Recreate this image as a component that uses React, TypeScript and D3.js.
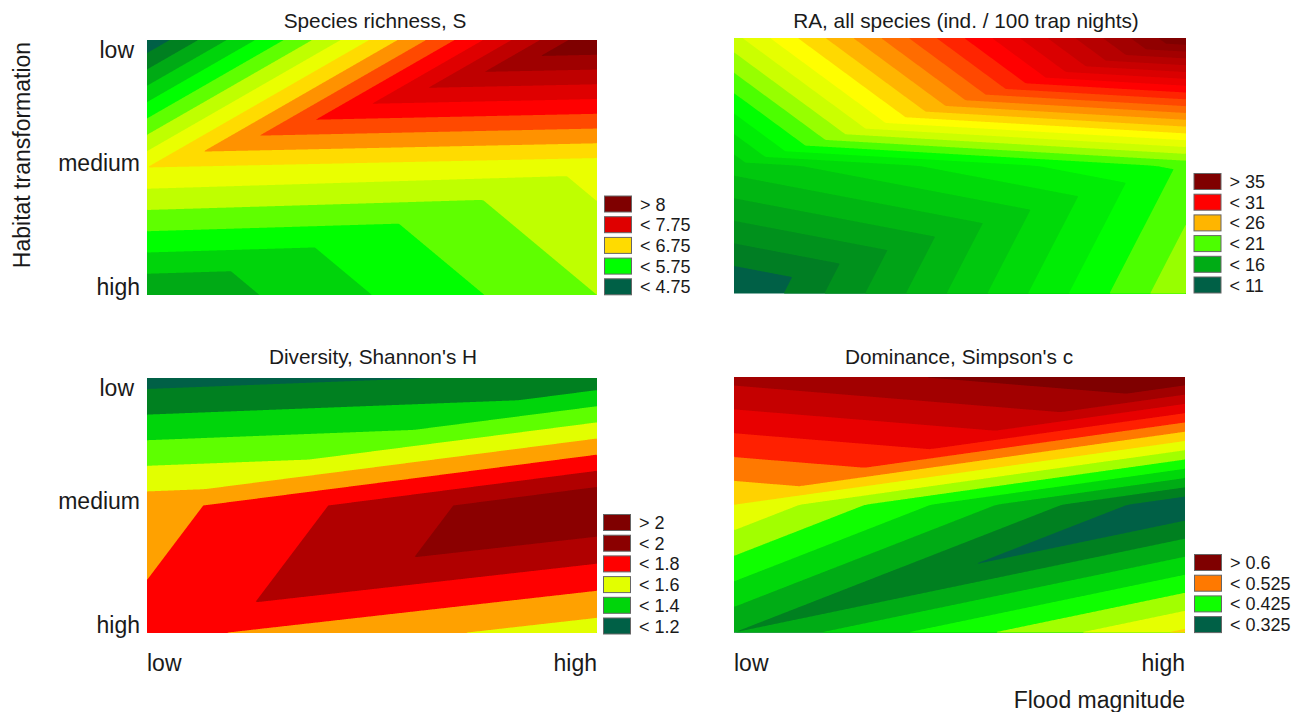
import React from 'react';
import * as d3 from 'd3';

const floodLevels = ['low', 'high'];
const habitatLevels = ['low', 'medium', 'high'];

// node values, one row per habitat level, one column per flood level
const richnessValues = [[4.55, 8.5], [6.5, 6.34], [5.0, 6.0]];
const abundanceValues = [[21.7, 38.0], [15.44, 19.26], [9.78, 20.88]];
const shannonValues = [[1.157, 1.225], [1.655, 2.015], [1.732, 1.544]];
const simpsonValues = [[0.609, 0.6475], [0.475, 0.303], [0.35, 0.48]];

const richnessLevels = [4.75, 5, 5.25, 5.5, 5.75, 6, 6.25, 6.5, 6.75, 7, 7.25, 7.5, 7.75, 8, 8.25];
const abundanceLevels = [11, 12, 13, 14, 15, 16, 17, 18, 19, 20, 21, 22, 23, 24, 25, 26, 27, 28, 29, 30, 31, 32, 33, 34, 35, 36, 37];
const shannonLevels = [1.2, 1.3, 1.4, 1.5, 1.6, 1.7, 1.8, 1.9, 2.05];
const simpsonLevels = [0.325, 0.35, 0.375, 0.4, 0.425, 0.45, 0.475, 0.5, 0.525, 0.55, 0.575, 0.6, 0.625];

const richnessLegend = ['> 8', '< 7.75', '< 6.75', '< 5.75', '< 4.75'];
const richnessLegendBands = [15, 12, 8, 4, 0];
const abundanceLegend = ['> 35', '< 31', '< 26', '< 21', '< 16', '< 11'];
const abundanceLegendBands = [27, 20, 15, 9, 3.5, 0];
const shannonLegend = ['> 2', '< 2', '< 1.8', '< 1.6', '< 1.4', '< 1.2'];
const shannonLegendBands = [9, 8, 6, 4, 2, 0];
const simpsonLegend = ['> 0.6', '< 0.525', '< 0.425', '< 0.325'];
const simpsonLegendBands = [13, 8, 4, 0];

const rampColors = ['#006046', '#008020', '#00ff00', '#bfff00', '#ffff00', '#ff0000', '#7f0000'];
const shannonColors = ['#006046', '#008020', '#00ff00', '#bfff00', '#ffff00', '#ff0000', '#b00000', '#8b0000', '#7f0000'];
const richnessStops = [0, 0.067, 0.267, 0.4, 0.5, 0.733, 1];
const abundanceStops = [0, 0.04, 0.296, 0.39, 0.48, 0.74, 1];
const shannonStops = [0, 0.111, 0.278, 0.39, 0.49, 0.667, 0.778, 0.889, 1];
const simpsonStops = [0, 0.077, 0.3, 0.4, 0.5, 0.72, 1];

const font = '"Liberation Sans", Arial, sans-serif';
const textColor = '#1a1a1a';

const panels = [
  { title: 'Species richness, S', values: richnessValues, levels: richnessLevels, legend: richnessLegend, bands: richnessLegendBands,
    stops: richnessStops, colors: rampColors,
    x: 147, y: 40, w: 450, h: 255, titleX: 375, titleY: 28, legendX: 604, legendY: 195.5, yTicks: true, xTicks: false },
  { title: 'RA, all species (ind. / 100 trap nights)', values: abundanceValues, levels: abundanceLevels, legend: abundanceLegend, bands: abundanceLegendBands,
    stops: abundanceStops, colors: rampColors,
    x: 734, y: 38, w: 452, h: 255.5, titleX: 966, titleY: 28, legendX: 1193.5, legendY: 173, yTicks: false, xTicks: false },
  { title: "Diversity, Shannon's H", values: shannonValues, levels: shannonLevels, legend: shannonLegend, bands: shannonLegendBands,
    stops: shannonStops, colors: shannonColors,
    x: 147, y: 378, w: 450, h: 255, titleX: 373, titleY: 364, legendX: 603, legendY: 514, yTicks: true, xTicks: true },
  { title: "Dominance, Simpson's c", values: simpsonValues, levels: simpsonLevels, legend: simpsonLegend, bands: simpsonLegendBands,
    stops: simpsonStops, colors: rampColors,
    x: 734, y: 377, w: 451, h: 255.5, titleX: 959, titleY: 364, legendX: 1194, legendY: 554, yTicks: false, xTicks: true },
];

// linear interpolation over triangles, every cell is cut from lower left to upper right
function sampleGrid(values, nx, ny) {
  const rows = values.length - 1;
  const out = new Float64Array(nx * ny);
  for (let j = 0; j < ny; j++) {
    const gy = ((j + 0.5) / ny) * rows;
    const r = Math.min(Math.floor(gy), rows - 1);
    const fy = gy - r;
    for (let i = 0; i < nx; i++) {
      const fx = (i + 0.5) / nx;
      const tl = values[r][0], tr = values[r][1], bl = values[r + 1][0], br = values[r + 1][1];
      out[j * nx + i] = fx + fy <= 1
        ? tl + fx * (tr - tl) + fy * (bl - tl)
        : br + (1 - fx) * (bl - br) + (1 - fy) * (tr - br);
    }
  }
  return out;
}

function Panel({ p }) {
  const xScale = d3.scalePoint().domain(floodLevels).range([p.x, p.x + p.w]);
  const yScale = d3.scalePoint().domain(habitatLevels).range([p.y, p.y + p.h]);
  const color = d3.scaleLinear().domain(p.stops).range(p.colors).interpolate(d3.interpolateRgb);
  const bandColor = (k) => color(k / p.levels.length);

  const nx = Math.round(p.w);
  const ny = Math.round(p.h);
  const grid = sampleGrid(p.values, nx, ny);
  const contours = d3.contours().size([nx, ny]).smooth(true).thresholds(p.levels)(grid);
  const path = d3.geoPath(d3.geoIdentity().scale(p.w / nx));

  return (
    <g>
      <text x={p.titleX} y={p.titleY} textAnchor="middle" fontSize={20.8} fill={textColor}>{p.title}</text>
      <g transform={`translate(${xScale('low')},${yScale('low')}) scale(1,${p.h / ny})`}>
        <rect width={p.w} height={ny} fill={bandColor(0)} />
        {contours.map((c, i) => (
          <path key={i} d={path(c) || ''} fill={bandColor(i + 1)} />
        ))}
      </g>
      {p.legend.map((label, i) => (
        <g key={label} transform={`translate(${p.legendX},${p.legendY + i * 20.7})`}>
          <rect x={0.5} y={0.5} width={27} height={16} fill={bandColor(p.bands[i])} stroke="#666" strokeWidth={1} />
          <text x={36} y={15} fontSize={18} fill={textColor}>{label}</text>
        </g>
      ))}
      {p.yTicks && habitatLevels.map((d) => (
        <text key={d} x={d === 'low' ? 134 : 140} y={d === 'low' ? yScale(d) + 18 : d === 'medium' ? yScale(d) + 3.5 : yScale(d)} textAnchor="end" fontSize={23} fill={textColor}>{d}</text>
      ))}
      {p.xTicks && floodLevels.map((d) => (
        <text key={d} x={xScale(d)} y={671} textAnchor={d === 'low' ? 'start' : 'end'} fontSize={23} fill={textColor}>{d}</text>
      ))}
    </g>
  );
}

export default function App() {
  return (
    <svg width={1303} height={712} fontFamily={font} style={{ position: 'absolute', left: 0, top: 0, background: '#fff' }}>
      {panels.map((p) => <Panel key={p.title} p={p} />)}
      <text transform="translate(30,155) rotate(-90)" textAnchor="middle" fontSize={23} fill={textColor}>Habitat transformation</text>
      <text x={1185} y={708} textAnchor="end" fontSize={23} fill={textColor}>Flood magnitude</text>
    </svg>
  );
}
